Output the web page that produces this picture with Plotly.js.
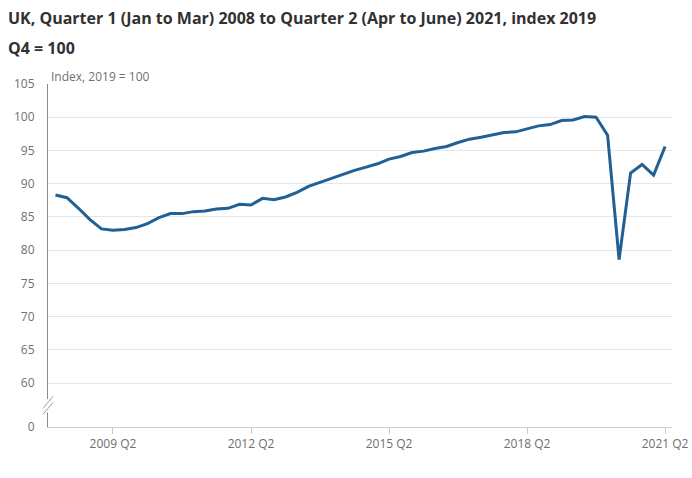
<!DOCTYPE html>
<html>
<head>
<meta charset="utf-8">
<script src="https://cdn.plot.ly/plotly-3.0.1.min.js"></script>
<style>
html,body{margin:0;padding:0;background:#fff;}
#chart{width:692px;height:478px;}
</style>
</head>
<body>
<div id="chart"></div>
<script>
// Quarters 2008 Q1 .. 2021 Q2
const years = [2008,2009,2010,2011,2012,2013,2014,2015,2016,2017,2018,2019,2020,2021];
const quarterNames = ["Q1","Q2","Q3","Q4"];
const quarters = [];
years.forEach(y => quarterNames.forEach(q => { if (!(y === 2021 && (q === "Q3" || q === "Q4"))) quarters.push(y + " " + q); }));

// GDP index, 2019 Q4 = 100
const gdpIndex = [
  88.3, 87.9, 86.3, 84.6,   // 2008
  83.2, 83.0, 83.1, 83.4,   // 2009
  84.0, 84.9, 85.5, 85.5,   // 2010
  85.8, 85.9, 86.2, 86.3,   // 2011
  86.9, 86.8, 87.8, 87.6,   // 2012
  88.0, 88.7, 89.6, 90.2,   // 2013
  90.9, 91.5, 92.0, 92.5,   // 2014
  93.0, 93.7, 94.1, 94.7,   // 2015
  94.9, 95.3, 95.6, 96.2,   // 2016
  96.7, 97.0, 97.4, 97.7,   // 2017
  97.8, 98.2, 98.7, 98.9,   // 2018
  99.5, 99.6, 100.1, 100.0, // 2019
  97.3, 78.6, 91.6, 92.9,   // 2020
  91.3, 95.6                // 2021
];

const xTickLabels = ["2009 Q2","2012 Q2","2015 Q2","2018 Q2","2021 Q2"];
const yTickLabels = ["0","60","65","70","75","80","85","90","95","100","105"];
const yTickValues = [53.4,60,65,70,75,80,85,90,95,100,105]; // "0" placed below the axis break

const font = "'Open Sans', 'Liberation Sans', sans-serif";

const trace = {
  x: quarters,
  y: gdpIndex,
  type: "scatter",
  mode: "lines",
  line: {color: "#206095", width: 3},
  hoverinfo: "x+y"
};

const layout = {
  width: 692, height: 478,
  margin: {l: 48, r: 20, t: 84, b: 51},
  paper_bgcolor: "#fff", plot_bgcolor: "#fff",
  showlegend: false,
  font: {family: font, color: "#707070", size: 12},
  xaxis: {
    type: "category",
    range: [-0.65, 53.6],
    tickvals: xTickLabels,
    ticktext: xTickLabels,
    ticks: "outside", ticklen: 6, tickcolor: "#cccccc",
    showgrid: false, zeroline: false,
    showline: true, linecolor: "#cccccc", linewidth: 1,
    tickfont: {family: font, size: 12, color: "#707070"}
  },
  yaxis: {
    range: [53.4, 105],
    tickvals: yTickValues,
    ticktext: yTickLabels,
    ticks: "", showgrid: true, gridcolor: "#e6e6e6", gridwidth: 1,
    zeroline: false,
    showline: true, linecolor: "#8a8a8a", linewidth: 1,
    ticklabelstandoff: 10,
    tickfont: {family: font, size: 12, color: "#707070"}
  },
  annotations: [
    {text: "<b>UK, Quarter 1 (Jan to Mar) 2008 to Quarter 2 (Apr to June) 2021, index 2019</b>",
     xref: "paper", yref: "paper", x: -0.068, y: 1 + (84 - 18) / 343,
     xanchor: "left", yanchor: "middle", showarrow: false,
     font: {family: font, size: 16, color: "#323132"}},
    {text: "<b>Q4 = 100</b>",
     xref: "paper", yref: "paper", x: -0.068, y: 1 + (84 - 48) / 343,
     xanchor: "left", yanchor: "middle", showarrow: false,
     font: {family: font, size: 16, color: "#323132"}},
    {text: "Index, 2019 = 100",
     xref: "paper", yref: "paper", x: 0.002, y: 1 + (84 - 77) / 343,
     xanchor: "left", yanchor: "middle", showarrow: false,
     font: {family: font, size: 12, color: "#707070"}}
  ],
  shapes: [
    {type: "rect", xref: "paper", yref: "y", x0: -0.006, x1: 0.006, y0: 55.6, y1: 57.6,
     fillcolor: "#ffffff", line: {width: 0}, layer: "above"},
    {type: "line", xref: "paper", yref: "y", x0: -0.008, x1: 0.008, y0: 56.2, y1: 58.0,
     line: {color: "#a0a0a0", width: 1}, layer: "above"},
    {type: "line", xref: "paper", yref: "y", x0: -0.008, x1: 0.008, y0: 55.3, y1: 57.1,
     line: {color: "#a0a0a0", width: 1}, layer: "above"}
  ]
};

Plotly.newPlot("chart", [trace], layout, {displayModeBar: false, staticPlot: true});
</script>
</body>
</html>
